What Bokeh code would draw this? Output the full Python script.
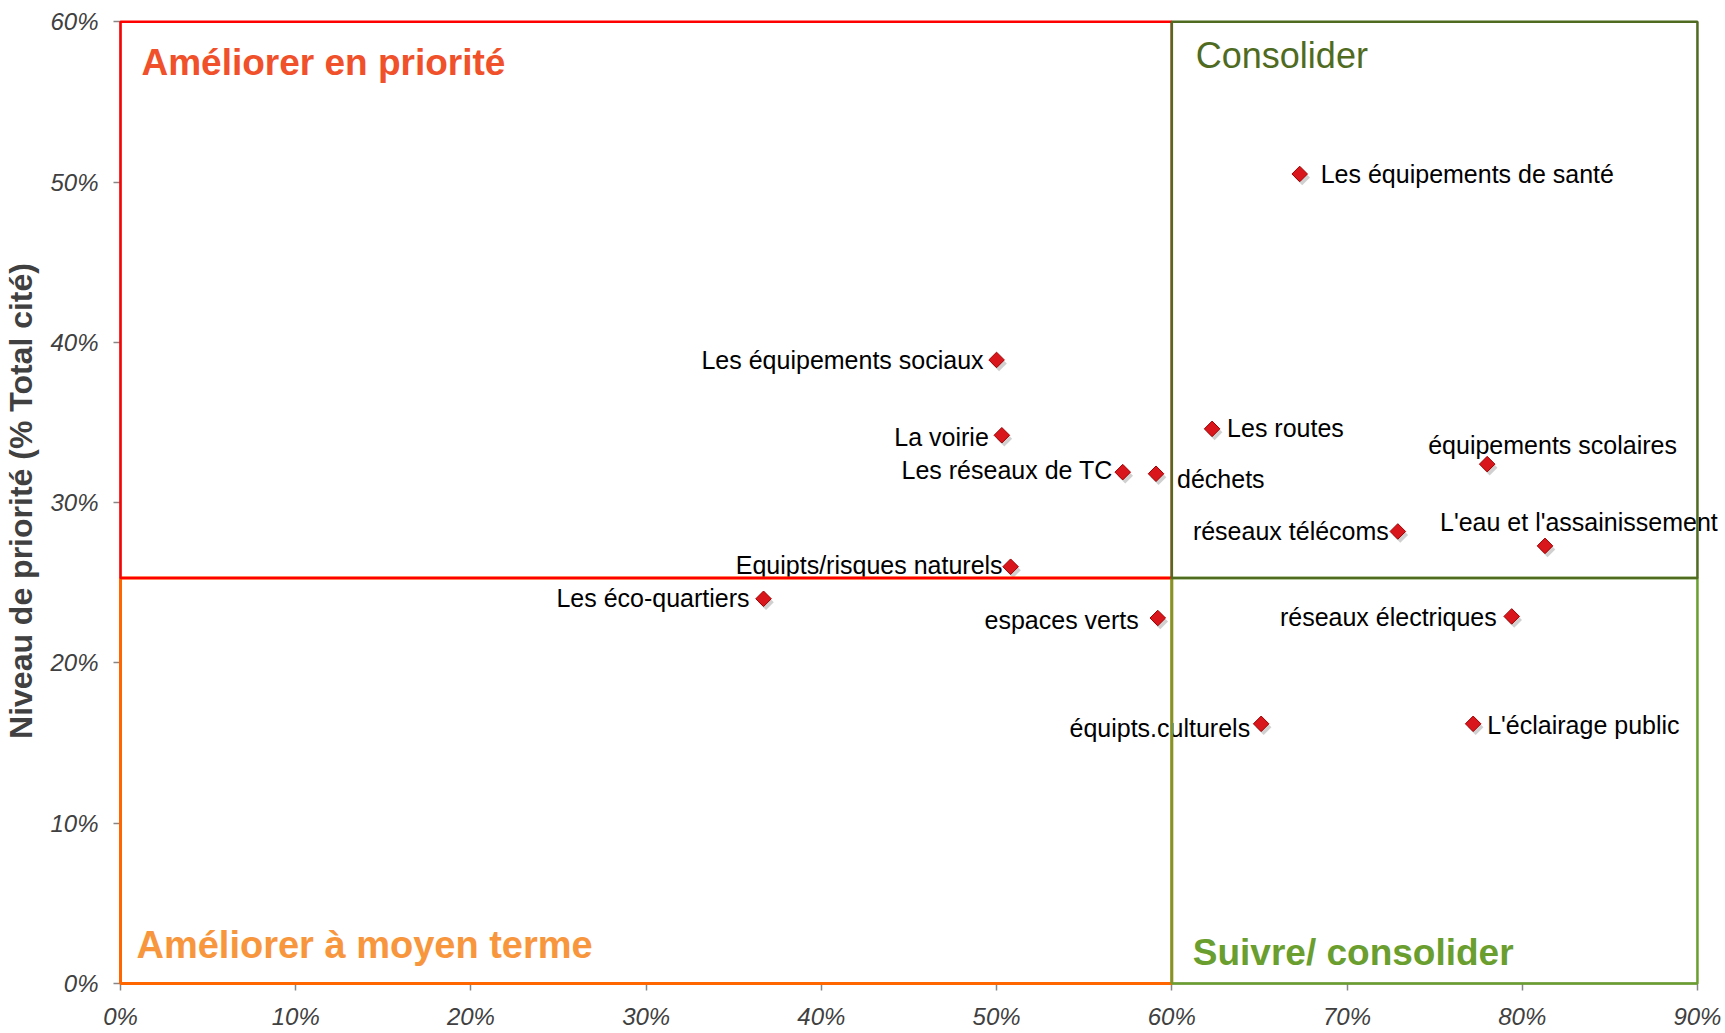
from bokeh.plotting import figure
from bokeh.models import (ColumnDataSource, Range1d, FixedTicker, NumeralTickFormatter,
                          LabelSet, Label)
from bokeh.core.properties import value
from bokeh.embed import file_html
from bokeh.resources import INLINE
import math

# ---------------- data ----------------
categories = [
    "Les équipements de santé",
    "Les équipements sociaux",
    "La voirie",
    "Les réseaux de TC",
    "déchets",
    "Les routes",
    "équipements scolaires",
    "réseaux télécoms",
    "L'eau et l'assainissement",
    "Equipts/risques naturels",
    "Les éco-quartiers",
    "espaces verts",
    "réseaux électriques",
    "équipts.culturels",
    "L'éclairage public",
]
x_values = [0.673, 0.500, 0.503, 0.572, 0.591, 0.623, 0.780, 0.729, 0.813,
            0.508, 0.367, 0.592, 0.794, 0.651, 0.772]
y_values = [0.505, 0.389, 0.342, 0.319, 0.318, 0.346, 0.324, 0.282, 0.273,
            0.260, 0.240, 0.228, 0.229, 0.162, 0.162]

x_ticks = [0.0, 0.1, 0.2, 0.3, 0.4, 0.5, 0.6, 0.7, 0.8, 0.9]
y_ticks = [0.0, 0.1, 0.2, 0.3, 0.4, 0.5, 0.6]

# quadrant thresholds
x_split = 0.60
y_split = 0.253
x_max = 0.90
y_max = 0.60

quadrant_titles = ["Améliorer en priorité", "Consolider",
                   "Améliorer à moyen terme", "Suivre/ consolider"]

# ---------------- label layout (screen px: align, dx, dy down) ----------------
label_layout = [
    ("left", 21, 0), ("right", -13, 0), ("right", -13, 2), ("right", -10, -2),
    ("left", 21, 5), ("left", 15, -1), ("left", -59, -19), ("right", -9, 0),
    ("left", -105, -24), ("right", -8, -2), ("right", -14, -1), ("right", -19, 2),
    ("right", -15, 1), ("right", -11, 4), ("left", 14, 1),
]

FONT = "Liberation Sans"
W, H = 1722, 1032
BL, BR, BT, BB = 120, 0, 18, 48
x_view_end = 0.9143   # a little room right of the 90% edge for overflowing labels
y_view_end = 0.602

p = figure(width=W, height=H, x_range=Range1d(0, x_view_end), y_range=Range1d(0, y_view_end),
           output_backend="svg", toolbar_location=None,
           min_border_left=BL, min_border_right=BR, min_border_top=BT, min_border_bottom=BB)
p.grid.visible = False
p.outline_line_color = None
p.background_fill_color = "white"

# quadrant boxes
boxes = [
    (0, x_split, 0, y_split, "#FF6600", 3),
    (0, x_split, y_split, y_max, "#FF0000", 2.5),
    (x_split, x_max, 0, y_split, "#6A9E2E", 2.5),
    (x_split, x_max, y_split, y_max, "#4F6B1F", 2.5),
]
for l, r, b, t, c, w in boxes:
    p.quad(left=l, right=r, bottom=b, top=t, fill_color=None, line_color=c,
           line_width=w, level="overlay")

# quadrant titles
title_specs = [
    (quadrant_titles[0], 0, y_max, 21, -41, "#F0502A", "bold", "37px"),
    (quadrant_titles[1], x_split, y_max, 24, -34, "#4F6B1F", "normal", "36px"),
    (quadrant_titles[2], 0, 0, 16, 39, "#F7963C", "bold", "38px"),
    (quadrant_titles[3], x_split, 0, 21, 31, "#6A9E2E", "bold", "37px"),
]
for txt, x, y, dx, dy, col, style, size in title_specs:
    p.add_layout(Label(x=x, y=y, x_offset=dx, y_offset=dy, text=txt, text_color=col,
                       text_font=FONT, text_font_style=style, text_font_size=size,
                       text_baseline="alphabetic", text_align="left"))

# markers with shadow
frame_w = W - BL - BR
frame_h = H - BT - BB
px_x = x_view_end / frame_w
px_y = y_view_end / frame_h
shadow_x = [v + 2.5 * px_x for v in x_values]
shadow_y = [v - 3.5 * px_y for v in y_values]
p.scatter(shadow_x, shadow_y, marker="square", size=11, angle=math.pi / 4,
          fill_color="#777777", fill_alpha=0.35, line_color=None)
p.scatter(x_values, y_values, marker="square", size=11, angle=math.pi / 4,
          fill_color="#D8161C", line_color="#A00000", line_width=1)

# data labels
for align in ("left", "right"):
    idx = [i for i, l in enumerate(label_layout) if l[0] == align]
    src = ColumnDataSource(dict(
        x=[x_values[i] for i in idx], y=[y_values[i] for i in idx],
        text=[categories[i] for i in idx],
        dx=[label_layout[i][1] for i in idx],
        dy=[-label_layout[i][2] for i in idx],
    ))
    p.add_layout(LabelSet(x="x", y="y", text="text", x_offset="dx", y_offset="dy",
                          source=src, text_align=align, text_baseline="middle",
                          text_font=value(FONT), text_font_size="25px",
                          text_color="black"))

# axes
for ax in (p.xaxis[0], p.yaxis[0]):
    ax.axis_line_color = "#868686"
    ax.axis_line_width = 2
    ax.major_tick_line_color = "#868686"
    ax.major_tick_line_width = 1.5
    ax.major_tick_in = 0
    ax.major_tick_out = 7
    ax.minor_tick_line_color = None
    ax.major_label_text_font = FONT
    ax.major_label_text_font_style = "italic"
    ax.major_label_text_font_size = "24px"
    ax.major_label_text_color = "#404040"
    ax.formatter = NumeralTickFormatter(format="0%")

p.xaxis[0].ticker = FixedTicker(ticks=x_ticks)
p.yaxis[0].ticker = FixedTicker(ticks=y_ticks)
p.xaxis[0].bounds = (0, x_max)
p.yaxis[0].bounds = (0, y_max)
p.xaxis[0].major_label_standoff = 12
p.yaxis[0].major_label_standoff = 15
p.yaxis[0].axis_label = "Niveau de priorité (% Total cité)"
p.yaxis[0].axis_label_text_font = FONT
p.yaxis[0].axis_label_text_font_style = "bold"
p.yaxis[0].axis_label_text_font_size = "32px"
p.yaxis[0].axis_label_text_color = "#404040"
p.yaxis[0].axis_label_standoff = 8

open("out.html", "w").write(file_html(p, INLINE))
